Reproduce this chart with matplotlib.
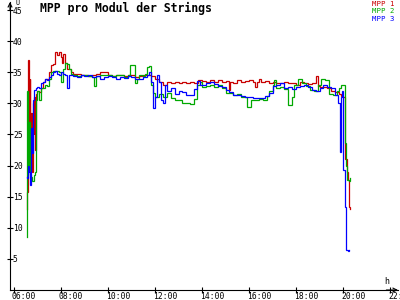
import matplotlib
matplotlib.use("Agg")
import matplotlib.pyplot as plt
import matplotlib.transforms as mtransforms

title = "MPP pro Modul der Strings"
series_names = ["MPP 1", "MPP 2", "MPP 3"]
series_colors = ["#c80000", "#00a800", "#0000ff"]
x_ticks = [6, 8, 10, 12, 14, 16, 18, 20, 22]
x_tick_labels = ["06:00", "08:00", "10:00", "12:00", "14:00", "16:00", "18:00", "20:00", "22:00"]
y_ticks = [5, 10, 15, 20, 25, 30, 35, 40, 45]
y_tick_labels = ["5", "10", "15", "20", "25", "30", "35", "40", "45"]

mpp1_times = ["06:32", "06:34", "06:36", "06:38", "06:40", "06:42", "06:44", "06:46", "06:48", "06:50",
              "06:52", "06:54", "06:56", "07:00", "07:05", "07:10", "07:15", "07:20", "07:25", "07:30",
              "07:35", "07:40", "07:45", "07:50", "07:55", "08:00", "08:03", "08:06", "08:10", "08:15",
              "08:20", "08:25", "08:30", "08:40", "08:50", "09:00", "09:10", "09:20", "09:30", "09:40",
              "09:50", "10:00", "10:10", "10:20", "10:30", "10:40", "10:50", "11:00", "11:10", "11:20",
              "11:30", "11:40", "11:50", "12:00", "12:10", "12:20", "12:30", "12:40", "12:50", "13:00",
              "13:10", "13:20", "13:30", "13:40", "13:50", "14:00", "14:10", "14:20", "14:30", "14:40",
              "14:50", "15:00", "15:08", "15:12", "15:20", "15:30", "15:40", "15:50", "16:00", "16:10",
              "16:15", "16:20", "16:25", "16:30", "16:40", "16:50", "17:00", "17:10", "17:20", "17:30",
              "17:40", "17:50", "18:00", "18:10", "18:20", "18:30", "18:40", "18:50", "18:55", "19:00",
              "19:10", "19:20", "19:30", "19:40", "19:50", "19:55", "20:00", "20:04", "20:06", "20:09",
              "20:12", "20:15", "20:18"]
mpp1_values = [13.0, 15.8, 37.0, 20.0, 34.0, 22.0, 28.5, 19.0, 30.0, 25.0,
               31.0, 22.5, 31.5, 32.0, 31.8, 32.5, 33.5, 34.0, 34.0, 35.0,
               36.2, 36.3, 38.2, 37.8, 38.3, 37.5, 36.5, 38.0, 36.5, 35.5,
               35.5, 35.0, 34.8, 34.8, 34.6, 34.5, 34.4, 34.6, 34.8, 35.0,
               35.0, 34.5, 34.4, 34.6, 34.5, 34.4, 34.5, 34.6, 34.3, 34.4,
               34.5, 34.6, 34.4, 34.0, 33.5, 33.0, 33.4, 33.3, 33.5, 33.2,
               33.4, 33.3, 33.5, 33.3, 33.8, 33.6, 33.4, 33.8, 33.5, 33.7,
               33.4, 33.6, 32.2, 33.5, 33.3, 33.7, 33.4, 33.6, 33.8, 33.4,
               32.7, 33.5, 34.0, 33.4, 33.6, 33.3, 33.4, 33.2, 33.3, 33.5,
               33.3, 33.2, 33.0, 33.4, 33.3, 33.1, 33.2, 34.4, 32.8, 32.6,
               32.7, 32.4, 32.0, 31.8, 31.5, 31.2, 31.0, 30.0, 21.0, 19.0,
               17.7, 13.3, 13.0]

mpp2_times = ["06:32", "06:33", "06:35", "06:37", "06:39", "06:41", "06:44", "06:47", "06:50", "06:53",
              "06:56", "07:00", "07:05", "07:10", "07:15", "07:20", "07:25", "07:30", "07:35", "07:40",
              "07:45", "07:50", "07:55", "08:00", "08:05", "08:10", "08:15", "08:20", "08:25", "08:30",
              "08:40", "08:50", "09:00", "09:10", "09:20", "09:25", "09:30", "09:40", "09:50", "10:00",
              "10:10", "10:20", "10:30", "10:40", "10:50", "10:55", "11:05", "11:10", "11:15", "11:20",
              "11:30", "11:35", "11:40", "11:45", "11:50", "11:55", "12:00", "12:10", "12:20", "12:30",
              "12:40", "12:50", "13:00", "13:10", "13:20", "13:30", "13:40", "13:48", "13:55", "14:00",
              "14:10", "14:20", "14:30", "14:40", "14:50", "15:00", "15:10", "15:20", "15:30", "15:40",
              "15:50", "15:55", "16:05", "16:15", "16:25", "16:35", "16:45", "16:50", "17:00", "17:05",
              "17:10", "17:20", "17:30", "17:40", "17:50", "17:55", "18:05", "18:15", "18:25", "18:35",
              "18:45", "18:55", "19:05", "19:15", "19:25", "19:35", "19:45", "19:50", "19:55", "20:00",
              "20:04", "20:07", "20:10", "20:15", "20:18"]
mpp2_values = [8.5, 32.0, 29.0, 20.0, 27.0, 18.5, 18.2, 17.6, 18.5, 19.0,
               30.5, 32.0, 30.5, 32.5, 32.5, 33.0, 32.8, 34.0, 35.0, 35.2,
               35.2, 35.2, 35.0, 33.5, 35.5, 36.5, 36.3, 35.5, 34.8, 34.5,
               34.4, 34.6, 34.5, 34.4, 34.3, 32.8, 34.4, 34.5, 34.6, 34.5,
               34.4, 34.5, 34.6, 34.3, 34.5, 36.2, 36.2, 33.3, 34.0, 34.5,
               34.4, 34.8, 35.9, 36.0, 33.0, 31.7, 31.0, 31.5, 31.0, 31.7,
               30.8, 30.6, 30.5, 30.0, 30.1, 29.9, 30.7, 33.0, 33.4, 32.7,
               32.8, 33.0, 32.6, 32.9, 32.5, 31.7, 31.6, 31.4, 31.5, 31.0,
               31.0, 29.5, 30.6, 30.5, 30.7, 30.6, 31.2, 32.0, 33.0, 33.8,
               32.5, 32.6, 32.3, 29.7, 31.0, 33.0, 34.0, 33.2, 32.8, 32.2,
               32.0, 33.0, 33.9, 33.8, 31.5, 31.3, 32.0, 32.5, 33.0, 33.0,
               23.6, 20.0, 17.7, 17.5, 18.0]

mpp3_times = ["06:32", "06:34", "06:36", "06:38", "06:40", "06:42", "06:44", "06:46", "06:48", "06:50",
              "06:55", "07:00", "07:05", "07:10", "07:15", "07:20", "07:25", "07:30", "07:35", "07:40",
              "07:45", "07:50", "07:55", "08:00", "08:05", "08:10", "08:15", "08:20", "08:25", "08:30",
              "08:40", "08:50", "09:00", "09:10", "09:20", "09:30", "09:40", "09:50", "10:00", "10:10",
              "10:20", "10:30", "10:40", "10:50", "11:00", "11:10", "11:20", "11:30", "11:40", "11:45",
              "11:50", "11:55", "12:00", "12:05", "12:10", "12:15", "12:20", "12:25", "12:30", "12:40",
              "12:50", "13:00", "13:10", "13:20", "13:30", "13:40", "13:48", "13:55", "14:00", "14:10",
              "14:20", "14:30", "14:40", "14:50", "15:00", "15:10", "15:20", "15:30", "15:40", "15:50",
              "16:00", "16:10", "16:20", "16:30", "16:40", "16:50", "17:00", "17:10", "17:20", "17:30",
              "17:40", "17:50", "18:00", "18:10", "18:20", "18:30", "18:40", "18:50", "19:00", "19:10",
              "19:20", "19:30", "19:40", "19:48", "19:52", "19:55", "19:58", "20:01", "20:04", "20:07",
              "20:12", "20:15"]
mpp3_values = [18.2, 18.0, 20.0, 19.0, 17.5, 16.9, 26.0, 22.0, 30.5, 32.2,
               32.5, 32.6, 32.4, 33.3, 33.5, 34.0, 33.8, 34.3, 34.5, 35.0,
               35.2, 34.8, 34.5, 35.0, 34.8, 34.5, 32.4, 34.6, 34.5, 34.4,
               34.3, 34.5, 34.4, 34.6, 34.2, 34.4, 34.0, 34.3, 34.4, 34.2,
               34.0, 34.3, 34.1, 34.4, 34.3, 34.0, 33.9, 34.3, 34.5, 35.0,
               33.5, 29.3, 31.0, 34.6, 33.5, 30.6, 30.0, 33.0, 32.0, 32.5,
               31.5, 32.0, 31.8, 31.4, 31.3, 32.3, 33.6, 33.0, 33.0, 33.3,
               33.4, 33.1, 32.8, 32.6, 32.2, 31.8, 31.3, 31.4, 31.2, 31.0,
               31.0, 30.8, 30.9, 30.8, 31.2, 31.7, 32.8, 33.0, 33.2, 32.5,
               32.6, 32.3, 32.7, 32.8, 33.0, 32.6, 32.2, 32.0, 32.5, 33.0,
               32.6, 32.5, 31.3, 30.0, 22.2, 31.0, 32.0, 19.3, 13.4, 6.4,
               6.3, 6.5]


def to_hours(times):
    return [int(t[:2]) + int(t[3:]) / 60.0 for t in times]


mono = "DejaVu Sans Mono"
fig = plt.figure(figsize=(4, 3), dpi=100)
fig.patch.set_facecolor("white")
ax = fig.add_axes([10 / 400, 10 / 300, 388 / 400, 288 / 300])
ax.set_facecolor("white")

all_times = [mpp1_times, mpp2_times, mpp3_times]
all_values = [mpp1_values, mpp2_values, mpp3_values]
for times, vals, col in zip(all_times, all_values, series_colors):
    ax.plot(to_hours(times), vals, color=col, lw=0.9, drawstyle="steps-post",
            solid_joinstyle="miter")

ax.set_xlim(5.83, 22.34)
ax.set_ylim(0, 46.3)

for s in ["top", "right"]:
    ax.spines[s].set_visible(False)
for s in ["left", "bottom"]:
    ax.spines[s].set_linewidth(0.8)
    ax.spines[s].set_color("black")

ax.set_xticks(x_ticks)
ax.set_xticklabels(x_tick_labels, fontfamily=mono, fontsize=5.8)
ax.set_yticks(y_ticks)
ax.set_yticklabels(y_tick_labels, fontfamily=mono, fontsize=5.8)
ax.tick_params(axis="both", direction="inout", length=4.3, width=0.8, color="black")
ax.tick_params(axis="x", pad=-0.4)
ax.tick_params(axis="y", pad=-4.3)
off = mtransforms.ScaledTranslation(-2 / 100, 0, fig.dpi_scale_trans)
for lbl in ax.get_xticklabels():
    lbl.set_horizontalalignment("left")
    lbl.set_transform(lbl.get_transform() + off)
for lbl in ax.get_yticklabels():
    lbl.set_horizontalalignment("left")

# axis arrows
ax.annotate("", xy=(0, 1.0), xytext=(0, 0.97), xycoords="axes fraction",
            arrowprops=dict(arrowstyle="->", lw=0.8, color="black", mutation_scale=7,
                            shrinkA=0, shrinkB=0), annotation_clip=False)
ax.annotate("", xy=(1.0, 0), xytext=(0.97, 0), xycoords="axes fraction",
            arrowprops=dict(arrowstyle="->", lw=0.8, color="black", mutation_scale=7,
                            shrinkA=0, shrinkB=0), annotation_clip=False)

fig.text(15 / 400, 1 - 0 / 300, "U", ha="left", va="top", fontsize=4.8, fontfamily=mono)
fig.text(387 / 400, 1 - 282 / 300, "h", ha="center", va="center", fontsize=6, fontfamily=mono)
fig.text(40 / 400, 1 - 2 / 300, title, ha="left", va="top", fontsize=8.3,
         fontweight="bold", fontfamily=mono)
for i, (name, col) in enumerate(zip(series_names, series_colors)):
    fig.text(395 / 400, 1 - (0.5 + i * 7.8) / 300, name, ha="right", va="top",
             fontsize=5.3, fontfamily=mono, color=col)

fig.savefig("out.png", dpi=100, facecolor="white")
